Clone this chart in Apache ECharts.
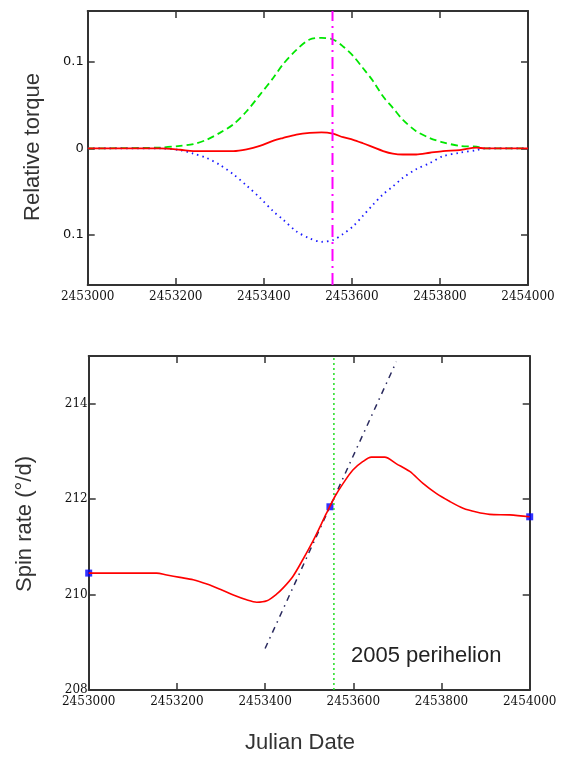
<!DOCTYPE html>
<html><head><meta charset="utf-8">
<script src="https://cdn.jsdelivr.net/npm/echarts@6/dist/echarts.min.js"></script>
<style>html,body{margin:0;padding:0;background:#fff}#c{width:566px;height:760px}</style>
</head><body><div id="c"></div>
<script>
// ---------- data ----------
const JD0 = 2453000;
const torqueDayOffsets = [0, 164, 210, 240, 270, 300, 331, 361, 391, 422, 443, 474, 504, 531, 557, 580, 603, 625, 648, 671, 693, 716, 746, 777, 807, 845, 883, 902, 1000];
const torqueGreen = [0, 0.001, 0.003, 0.005, 0.010, 0.018, 0.028, 0.043, 0.062, 0.082, 0.097, 0.114, 0.126, 0.128, 0.126, 0.118, 0.107, 0.093, 0.078, 0.060, 0.047, 0.033, 0.020, 0.012, 0.007, 0.003, 0.002, 0, 0];
const torqueBlue = [0, 0, -0.002, -0.006, -0.011, -0.019, -0.030, -0.043, -0.057, -0.073, -0.082, -0.096, -0.104, -0.108, -0.106, -0.099, -0.090, -0.078, -0.065, -0.053, -0.044, -0.034, -0.024, -0.017, -0.009, -0.005, -0.002, 0, 0];
const torqueRed = [0, 0, -0.0015, -0.003, -0.003, -0.003, -0.003, -0.001, 0.003, 0.009, 0.012, 0.016, 0.018, 0.0185, 0.017, 0.013, 0.010, 0.006, 0.0015, -0.003, -0.006, -0.007, -0.007, -0.005, -0.003, -0.002, 0.001, 0, 0];

const spinDayOffsets = [0, 154, 177, 207, 237, 268, 298, 328, 358, 381, 404, 426, 441, 463, 486, 509, 539, 558, 577, 599, 622, 641, 671, 698, 728, 758, 788, 819, 849, 879, 909, 955, 1000];
const spinRate = [210.45, 210.45, 210.41, 210.36, 210.31, 210.22, 210.11, 209.99, 209.89, 209.84, 209.87, 210.01, 210.14, 210.38, 210.74, 211.13, 211.70, 212.05, 212.33, 212.61, 212.79, 212.88, 212.88, 212.74, 212.58, 212.33, 212.12, 211.95, 211.81, 211.73, 211.68, 211.67, 211.63];
const spinMarkerDayOffsets = [0, 547, 1000];
const spinMarkerValues = [210.45, 211.84, 211.63];
const tangentDayOffsets = [400, 697.5];
const tangentValues = [208.87, 214.88];

const perihelionJD = 2453556;
const perihelionLabel = '2005 perihelion';
const xRange = [2453000, 2454000];
const xTicks = [2453000, 2453200, 2453400, 2453600, 2453800, 2454000];
const torqueRange = [-0.158, 0.159];
const torqueTicks = [-0.1, 0, 0.1];
const torqueTickLabels = ['0.1', '0', '0.1'];
const spinRange = [208, 215];
const spinTicks = [208, 210, 212, 214];
const spinTickLabels = ['208', '210', '212', '214'];
const torqueTitle = 'Relative torque';
const spinTitle = 'Spin rate (°/d)';
const xTitle = 'Julian Date';

// ---------- build ----------
const zip = (xs, ys) => xs.map((d, i) => [JD0 + d, ys[i]]);
const frame = { color: '#333', width: 2 };
const tickStyle = { color: '#333', width: 1.5 };

function xAx(gi, pos, showLabels) {
  return {
    type: 'value', gridIndex: gi, position: pos, min: xRange[0], max: xRange[1],
    splitLine: { show: false },
    axisLine: { show: true, onZero: false, lineStyle: frame },
    axisTick: { show: true, inside: true, length: 7, customValues: xTicks, lineStyle: tickStyle },
    axisLabel: { show: showLabels, customValues: xTicks, margin: 6, fontFamily: 'DejaVu Serif', fontSize: 12, color: '#111', formatter: v => String(v) }
  };
}
function yAx(gi, pos, range, ticks, labels, showLabels, font, size, margin) {
  return {
    type: 'value', gridIndex: gi, position: pos, min: range[0], max: range[1],
    splitLine: { show: false },
    axisLine: { show: true, onZero: false, lineStyle: frame },
    axisTick: { show: true, inside: true, length: 7, customValues: ticks, lineStyle: tickStyle },
    axisLabel: { show: showLabels, customValues: ticks, margin: margin, fontFamily: font, fontSize: size, color: '#111',
      formatter: v => { const i = ticks.findIndex(t => Math.abs(t - v) < 1e-9); return i >= 0 ? labels[i] : ''; } }
  };
}

const chart = echarts.init(document.getElementById('c'), null, { renderer: 'canvas' });
chart.setOption({
  animation: false,
  backgroundColor: '#fff',
  grid: [
    { left: 87.7, top: 11, width: 440.3, height: 274 },
    { left: 88.7, top: 356, width: 441, height: 334 }
  ],
  xAxis: [xAx(0, 'bottom', true), xAx(0, 'top', false), xAx(1, 'bottom', true), xAx(1, 'top', false)],
  yAxis: [
    yAx(0, 'left', torqueRange, torqueTicks, torqueTickLabels, true, 'DejaVu Sans', 13, 4),
    yAx(0, 'right', torqueRange, torqueTicks, torqueTickLabels, false, 'DejaVu Sans', 13, 4),
    yAx(1, 'left', spinRange, spinTicks, spinTickLabels, true, 'DejaVu Serif', 12, 1),
    yAx(1, 'right', spinRange, spinTicks, spinTickLabels, false, 'DejaVu Serif', 12, 1)
  ],
  series: [
    { type: 'line', xAxisIndex: 0, yAxisIndex: 0, data: zip(torqueDayOffsets, torqueGreen), symbol: 'none', smooth: 0.3,
      lineStyle: { color: '#00e600', width: 1.8, type: [7, 4] } },
    { type: 'line', xAxisIndex: 0, yAxisIndex: 0, data: zip(torqueDayOffsets, torqueBlue), symbol: 'none', smooth: 0.3,
      lineStyle: { color: '#1a1aff', width: 1.8, type: [1.5, 4] } },
    { type: 'line', xAxisIndex: 0, yAxisIndex: 0, data: zip(torqueDayOffsets, torqueRed), symbol: 'none', smooth: 0.3,
      lineStyle: { color: '#ff0000', width: 1.8 } },
    { type: 'line', xAxisIndex: 0, yAxisIndex: 0, data: [[perihelionJD, torqueRange[0]], [perihelionJD, torqueRange[1]]], symbol: 'none',
      lineStyle: { color: '#ff00ff', width: 2, type: [12, 5, 2, 5] } },

    { type: 'line', xAxisIndex: 2, yAxisIndex: 2, data: [[perihelionJD, spinRange[0]], [perihelionJD, spinRange[1]]], symbol: 'none',
      lineStyle: { color: '#22dd22', width: 1.5, type: [2, 3] } },
    { type: 'line', xAxisIndex: 2, yAxisIndex: 2, data: zip(tangentDayOffsets, tangentValues), symbol: 'none',
      lineStyle: { color: '#2a2a5e', width: 1.5, type: [6, 5, 1.5, 5] } },
    { type: 'line', xAxisIndex: 2, yAxisIndex: 2, data: zip(spinDayOffsets, spinRate), symbol: 'none', smooth: 0.3,
      lineStyle: { color: '#ff0000', width: 1.6 } },
    { type: 'scatter', xAxisIndex: 2, yAxisIndex: 2, data: zip(spinMarkerDayOffsets, spinMarkerValues), symbol: 'rect', symbolSize: 7,
      itemStyle: { color: '#0000ff' } }
  ],
  graphic: [
    { type: 'text', x: 33, y: 147, rotation: Math.PI / 2,
      style: { text: torqueTitle, font: '22px "Liberation Sans", Arial, sans-serif', fill: '#333', textAlign: 'center', textVerticalAlign: 'middle' } },
    { type: 'text', x: 25, y: 524, rotation: Math.PI / 2,
      style: { text: spinTitle, font: '22px "Liberation Sans", Arial, sans-serif', fill: '#333', textAlign: 'center', textVerticalAlign: 'middle' } },
    { type: 'text', x: 300, y: 743,
      style: { text: xTitle, font: '22px "Liberation Sans", Arial, sans-serif', fill: '#333', textAlign: 'center', textVerticalAlign: 'middle' } },
    { type: 'text', x: 351, y: 656,
      style: { text: perihelionLabel, font: '22px "Liberation Sans", Arial, sans-serif', fill: '#222', textAlign: 'left', textVerticalAlign: 'middle' } }
  ]
});
</script></body></html>
